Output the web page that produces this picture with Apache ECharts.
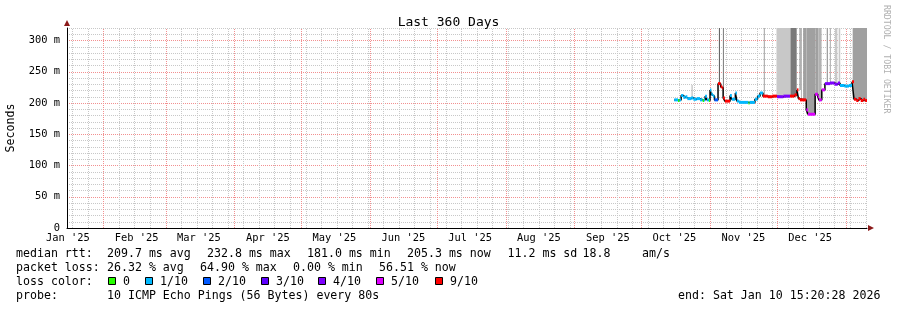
<!DOCTYPE html>
<html><head><meta charset="utf-8">
<script src="https://cdn.jsdelivr.net/npm/echarts@6/dist/echarts.min.js"></script>
<style>html,body{margin:0;padding:0;background:#fff}#c{width:897px;height:310px}</style>
</head><body><div id="c"></div>
<script>
// x values: days since 2025-01-01 00:00
const rangeStart = 14.639;   // Wed Jan 15 2025 15:20:28
const rangeEnd = 374.639;    // Sat Jan 10 2026 15:20:28
const yMax = 320;
const monthStarts = [0, 31, 59, 90, 120, 151, 181, 212, 243, 273, 304, 334, 365];
const monthLabels = ["Jan '25", "Feb '25", "Mar '25", "Apr '25", "May '25", "Jun '25", "Jul '25", "Aug '25", "Sep '25", "Oct '25", "Nov '25", "Dec '25", "Jan '26"];
const firstWeekLine = 17;
const weekStep = 7;

// median RTT (ms), step values starting at medianDays[i]
const medianDays = [287.9, 289.6, 290.3, 291.0, 292.0, 293.0, 293.8, 295.5, 296.5, 298.0, 299.5, 300.7, 301.3, 301.8, 302.6, 303.5, 304.0, 304.6, 305.3, 306.0, 307.6, 308.8, 309.5, 309.9, 310.7, 313.0, 313.8, 315.4, 316.1, 317.0, 321.3, 321.8, 324.2, 325.4, 326.5, 327.8, 330.0, 332.0, 334.1, 337.0, 340.0, 342.0, 343.1, 343.8, 344.5, 347.3, 348.1, 351.3, 352.5, 353.0, 354.3, 355.7, 358.0, 360.0, 361.5, 362.5, 364.5, 366.5, 367.9, 368.8, 369.8, 370.8, 371.8, 373.0, 373.8];
const medianMs   = [205, 204, 205, 212, 209, 210, 207, 208, 206, 207, 205, 204, 205, 211, 205, 204, 221, 214, 211, 205, 231, 226, 224, 208, 203, 212, 206, 216, 203, 201, 200, 201, 206, 211, 216, 211, 210, 211, 210, 211, 211, 213, 221, 207, 205, 189, 182, 214, 210, 205, 221, 231, 232, 230, 232, 228, 227, 228, 234, 206, 204, 207, 204, 206, 204];
const medianLoss = [1, 0, 1, 1, 1, 1, 1, 1, 1, 1, 1, 0, 1, 1, 1, 0, 1, 1, 1, 2, 6, 6, 6, 6, 6, 1, 1, 1, 1, 1, 0, 1, 1, 1, 1, 6, 6, 6, 4, 4, 6, 6, 6, 6, 6, 5, 5, 5, 5, 5, 5, 4, 4, 4, 4, 1, 1, 1, 6, 6, 6, 6, 6, 6, 6];

const lossLabels = ['0', '1/10', '2/10', '3/10', '4/10', '5/10', '9/10'];
const lossColors = ['#26ff00', '#00b8ff', '#0059ff', '#5e00ff', '#7e00ff', '#dd00ff', '#ff0000'];

// smoke (ping spread), ms; high beyond the scale is clipped
const smokeStart = [295.7, 308.0, 309.8, 328.2, 333.9, 340.2, 344.3, 344.9, 345.9, 347.4, 351.4, 352.7, 356.5, 357.9, 360.2, 361.9, 368.2];
const smokeEnd   = [296.1, 308.4, 310.2, 328.6, 340.2, 343.0, 344.7, 345.3, 347.4, 351.4, 352.7, 354.2, 357.1, 358.4, 361.3, 362.6, 374.639];
const smokeLow   = [208, 231, 224, 212, 211, 211, 221, 206, 205, 182, 212, 205, 231, 231, 231, 231, 206];
const smokeHigh  = [229, 999, 999, 999, 999, 999, 999, 999, 999, 999, 999, 999, 999, 999, 999, 999, 999];
const smokeLevel = [2, 5, 4, 3, 1, 4, 4, 2, 3, 3, 3, 2, 3, 2, 1, 1, 3];
const smokeShades = ['#ffffff', '#c8c8c8', '#b2b2b2', '#a0a0a0', '#7a7a7a', '#5a5a5a'];

const statsRtt = [['median rtt:', 16], ['209.7 ms avg', 107], ['232.8 ms max', 207], ['181.0 ms min', 307], ['205.3 ms now', 407], ['11.2 ms sd', 507.5], ['18.8', 582.5], ['am/s', 642]];
const statsLoss = [['packet loss:', 16], ['26.32 % avg', 107], ['64.90 % max', 200], ['0.00 % min', 293], ['56.51 % now', 379]];
const probeLine = [['probe:', 16], ['10 ICMP Echo Pings (56 Bytes) every 80s', 107], ['end: Sat Jan 10 15:20:28 2026', 678]];
const lossLegendX = [108.5, 145.5, 203.5, 261.5, 318.5, 376.5, 435.5];

const MONO = '"DejaVu Sans Mono", monospace';

// --- build data ---
const labelDays = monthStarts.map(d => d + 15).filter(d => d > rangeStart && d < rangeEnd);
const labelFor = v => { const i = monthStarts.findIndex(m => m + 15 === v); return i >= 0 ? monthLabels[i] : ''; };

const weekGrid = [];
for (let d = firstWeekLine; d <= rangeEnd; d += weekStep) if (d >= rangeStart && monthStarts.indexOf(d) < 0) weekGrid.push([d]);
const monthGrid = monthStarts.filter(d => d >= rangeStart && d <= rangeEnd).map(d => [d]);

const medianLine = medianDays.map((d, i) => [d, medianMs[i]]);
medianLine.push([rangeEnd, medianMs[medianMs.length - 1]]);
const medianSegs = medianDays.map((d, i) => [d, i + 1 < medianDays.length ? medianDays[i + 1] : rangeEnd, medianMs[i], medianLoss[i]]);
const smokeData = smokeStart.map((s, i) => [s, smokeEnd[i], smokeLow[i], smokeHigh[i], smokeLevel[i]]);

const red = '#f29090';
const gray = '#c8c8c8';

const graphics = [];
const addText = (arr, y) => arr.forEach(([t, x]) => graphics.push({type: 'text', x: x, y: y, style: {text: t, font: '11.6px ' + MONO, fill: '#000', align: 'left', verticalAlign: 'middle'}}));
addText(statsRtt, 254);
addText(statsLoss, 268);
addText([['loss color:', 16]], 282);
lossLabels.forEach((l, i) => {
  graphics.push({type: 'rect', shape: {x: lossLegendX[i], y: 277.5, width: 7, height: 7}, style: {fill: lossColors[i], stroke: '#000', lineWidth: 1}});
  graphics.push({type: 'text', x: lossLegendX[i] + 14.5, y: 282, style: {text: l, font: '11.6px ' + MONO, fill: '#000', align: 'left', verticalAlign: 'middle'}});
});
addText(probeLine, 296);
graphics.push({type: 'text', x: 886, y: 5, rotation: -Math.PI / 2, style: {text: 'RRDTOOL / TOBI OETIKER', font: '8.2px ' + MONO, fill: '#b0b0b0', align: 'left', verticalAlign: 'middle'}});
graphics.push({type: 'polygon', shape: {points: [[64, 26], [70, 26], [67, 20]]}, style: {fill: '#8b1a1a'}});
graphics.push({type: 'polygon', shape: {points: [[868, 225], [868, 231], [874, 228]]}, style: {fill: '#8b1a1a'}});

const vLine = color => (p, api) => {
  const a = api.coord([api.value(0), 0]);
  const b = api.coord([api.value(0), yMax]);
  const x = Math.round(a[0]) + 0.5;
  return {type: 'line', shape: {x1: x, y1: a[1], x2: x, y2: b[1]}, style: {stroke: color, fill: null, lineWidth: 1, lineDash: [1, 1]}};
};

const chart = echarts.init(document.getElementById('c'), null, {renderer: 'canvas'});
chart.setOption({
  animation: false,
  backgroundColor: '#fff',
  title: {text: 'Last 360 Days', left: 'center', top: 11, textStyle: {fontFamily: MONO, fontSize: 13, fontWeight: 'normal', color: '#000'}},
  grid: {left: 67, top: 28, width: 800, height: 200, containLabel: false, outerBoundsMode: 'none'},
  xAxis: {
    type: 'value', min: rangeStart, max: rangeEnd,
    axisLine: {show: true, lineStyle: {color: '#000', width: 1}},
    axisTick: {show: false},
    splitLine: {show: false},
    axisLabel: {customValues: labelDays, formatter: v => labelFor(v), fontFamily: MONO, fontSize: 10.4, color: '#000', margin: 5, hideOverlap: false}
  },
  yAxis: {
    type: 'value', min: 0, max: yMax, interval: 10,
    name: 'Seconds', nameLocation: 'middle', nameGap: 50, nameRotate: 90,
    nameTextStyle: {fontFamily: MONO, fontSize: 11.6, color: '#000'},
    axisLine: {show: true, lineStyle: {color: '#000', width: 1}},
    axisTick: {show: false},
    axisLabel: {formatter: v => (v % 50 ? '' : (v === 0 ? '0' : v + ' m')), fontFamily: MONO, fontSize: 10.4, color: '#000', margin: 7},
    splitLine: {show: true, lineStyle: {color: [red, gray, gray, gray, gray], type: [1, 1], width: 1}}
  },
  graphic: graphics,
  series: [
    {type: 'custom', name: 'weekGrid', z: 1, silent: true, data: weekGrid, encode: {x: 0}, renderItem: vLine(gray)},
    {type: 'custom', name: 'monthGrid', z: 1, silent: true, data: monthGrid, encode: {x: 0}, renderItem: vLine(red)},
    {
      type: 'custom', name: 'smoke', z: 2, silent: true,
      data: smokeData, encode: {x: [0, 1], y: [2, 3]},
      renderItem: (p, api) => {
        const hi = Math.min(api.value(3), yMax);
        const a = api.coord([api.value(0), hi]);
        const b = api.coord([api.value(1), api.value(2)]);
        return {type: 'rect', shape: {x: a[0], y: a[1], width: Math.max(b[0] - a[0], 1), height: b[1] - a[1]}, style: {fill: smokeShades[api.value(4)]}};
      }
    },
    {
      type: 'line', name: 'median', z: 3, step: 'end', showSymbol: false, silent: true,
      data: medianLine, lineStyle: {color: '#000', width: 1.5}
    },
    {
      type: 'custom', name: 'loss', z: 4, silent: true,
      data: medianSegs, encode: {x: [0, 1], y: 2},
      renderItem: (p, api) => {
        const a = api.coord([api.value(0), api.value(2)]);
        const b = api.coord([api.value(1), api.value(2)]);
        return {type: 'rect', shape: {x: a[0], y: a[1] - 1.5, width: Math.max(b[0] - a[0], 1), height: 3}, style: {fill: lossColors[api.value(3)]}};
      }
    }
  ]
});
</script></body></html>
